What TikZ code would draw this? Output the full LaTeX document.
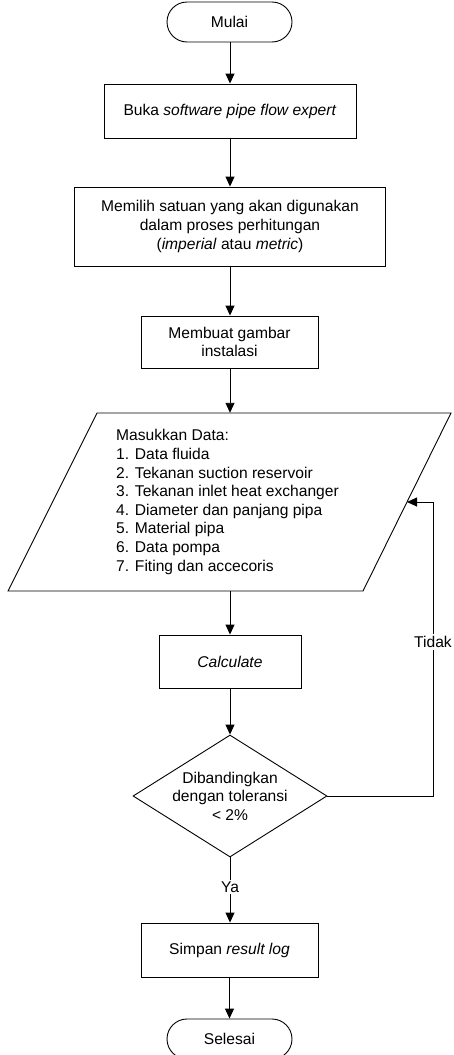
\documentclass[tikz,border=0pt]{standalone}
\usepackage{fontspec}
\setmainfont{Liberation Sans}
\usetikzlibrary{arrows.meta,shapes.geometric}
\begin{document}
\begin{tikzpicture}[x=1pt,y=1pt,
  every node/.style={font=\fontsize{15.6}{18.6}\selectfont, inner sep=0pt},
  line/.style={line width=0.9pt, draw=black},
  flow/.style={line, -{Triangle[length=10pt,width=9pt]}},
  term/.style={line, rectangle, rounded corners=20pt, minimum width=125pt, minimum height=40pt, align=center},
  proc/.style={line, rectangle, align=center},
  lbl/.style={fill=white, inner sep=2pt}
]
\useasboundingbox (0,0) rectangle (453,-1055);

% terminators and process boxes
\node[term] (start) at (229.5,-22) {Mulai};
\node[proc, minimum width=252pt, minimum height=54pt] (open) at (230,-111)
  {Buka \textit{software pipe flow expert}};
\node[proc, minimum width=311pt, minimum height=79pt] (unit) at (230,-226.5)
  {Memilih satuan yang akan digunakan\\dalam proses perhitungan\\(\textit{imperial} atau \textit{metric})};
\node[proc, minimum width=177pt, minimum height=52pt] (draw) at (229.5,-342)
  {Membuat gambar\\instalasi};

% data input parallelogram
\coordinate (pTL) at (97,-413);
\coordinate (pTR) at (451,-413);
\coordinate (pBR) at (363,-591);
\coordinate (pBL) at (8,-591);
\draw[line] (pTL) -- (pTR) -- (pBR) -- (pBL) -- cycle;
\node[minimum width=266pt, minimum height=178pt] (input) at (230,-502) {};
\node[anchor=west, align=left] (inputtext) at (116,-502)
  {Masukkan Data:\\1. Data fluida\\2. Tekanan suction reservoir\\3. Tekanan inlet heat exchanger\\4. Diameter dan panjang pipa\\5. Material pipa\\6. Data pompa\\7. Fiting dan accecoris};
\coordinate (inputR) at (407,-502);

\node[proc, minimum width=142pt, minimum height=53pt] (calc) at (230,-661.5)
  {\textit{Calculate}};

% decision
\node[line, diamond, minimum width=194pt, minimum height=122pt] (dec) at (230,-796) {};
\node[align=center] (dectext) at (dec.center) {Dibandingkan\\dengan toleransi\\< 2\%};

\node[proc, minimum width=177pt, minimum height=54pt] (save) at (229.5,-950)
  {Simpan \textit{result log}};
\node[term] (stop) at (229.5,-1039) {Selesai};

% connectors
\draw[flow] (start.south -| open.north) -- (open.north);
\draw[flow] (open) -- (unit);
\draw[flow] (unit) -- (draw.north -| unit.south);
\draw[flow] (draw.south -| input.north) -- (input.north);
\draw[flow] (input.south) -- (calc.north);
\draw[flow] (calc) -- (dec.north);
\draw[flow] (dec.south) -- (save.north -| dec.south);
\draw[flow] (save.south -| stop.north) -- (stop.north);
\coordinate (loopc) at (433,-796);
\draw[flow] (dec.east) -- (loopc) -- (loopc |- inputR) -- (inputR);

% branch labels
\node[lbl] (ya) at (230,-887) {Ya};
\node[lbl] (tidak) at (433,-642) {Tidak};
\end{tikzpicture}
\end{document}
